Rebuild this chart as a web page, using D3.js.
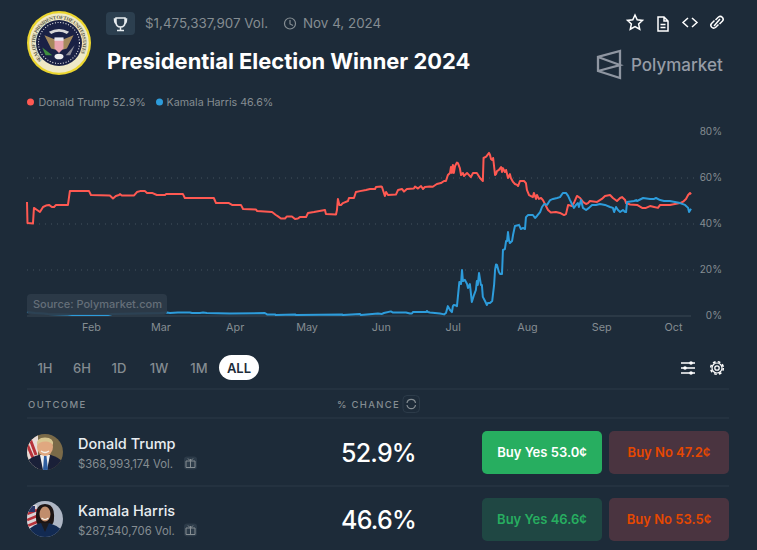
<!DOCTYPE html>
<html>
<head>
<meta charset="utf-8">
<script src="https://cdn.jsdelivr.net/npm/d3@7"></script>
<style>
  html, body { margin: 0; padding: 0; background: #1d2b39; overflow: hidden; }
  svg { display: block; font-family: Inter, "Noto Sans", sans-serif; }
  .axis path, .axis line { display: none; }
</style>
</head>
<body>
<div id="chart"></div>
<script>
// days since 1 Jan 2024 and % chance
const trumpDays = [4.3,4.5,6.8,7.2,8.5,9.7,11,12.2,13.5,14.7,15.6,16.4,21.4,22.2,30.2,31,38.9,40.2,41.4,42.7,43.1,43.9,49,50.2,51.5,53.5,54.4,56.5,58.5,61.9,62.3,69.4,70.2,82.3,83.2,88.6,89.9,93.6,94.5,99.9,100.3,106.6,108.2,109.1,110.3,112,112.8,114.9,116.2,117.4,118.2,120.8,121.6,124.1,128.7,129.1,133.3,133.7,134.1,134.7,135.4,136.2,138.3,138.7,140.8,141.2,141.6,143.3,145.8,147.5,149.6,150,152.1,152.5,153.3,153.7,154.2,155,158.3,159.2,160.9,161.7,162.9,165.8,166.3,167.1,167.5,168.8,169.6,170.4,172.4,173.7,175.4,177.1,178.4,179.2,180,180.9,181.3,181.7,182.1,182.5,183,183.8,184.2,185,185.5,186.3,186.7,188,189.6,190.5,192.1,193.4,194.6,194.9,196,197.2,197.6,198,198.5,198.9,199.7,200.1,200.5,201.3,202.2,202.6,203,203.8,204.3,204.7,205.1,205.9,206.3,207.2,208,208.9,209.3,210.1,211.8,212.6,213,213.9,215.5,215.9,216.8,217.2,218,218.9,219.7,221.8,223,225.1,226.8,228.5,229.3,230.2,231.8,232.6,233.9,235.2,236.4,237.7,238.5,239.3,242.3,244.3,245.6,247.7,248.9,250.6,251.9,252.7,254,254.4,256.1,259,261.1,262.7,264.4,266.1,267.7,268.6,272.7,274.8,276.9,278.2,279.4,280.3,281.1,281.5];
const trumpValues = [49.6,40.4,40.2,47,46.1,45.2,47.4,48,48.3,47.4,47.4,48.3,48.3,54.3,54.3,52.6,52.4,51.1,52.2,52.6,53,52.4,52.4,53.9,54.3,54.3,53.5,53.5,52.6,52.6,53,53,51.3,51.3,49.1,49.1,48.3,48.3,46.5,46.3,45.7,45.2,43.9,43.3,42.4,42.4,43.3,43.3,42.2,42.4,43,43,44.8,45.2,46.1,44.3,44.1,46.1,50.9,48.3,48.3,49.1,50,51.3,51.3,52.6,53.9,54.3,54.8,55.2,55.2,56.1,56.3,56.1,53.5,52.2,53.9,52.6,52.8,54.8,55.2,54.1,55.2,55.4,56.3,55.7,55.4,56.5,55.2,56.1,56.3,56.2,57.4,57.8,58.7,58.7,61.3,62.2,64.8,62.2,65.7,62.2,65.2,66.7,66.5,64.3,61.3,62.2,60.9,62.2,60.4,62.2,62.2,60,58.7,68.7,69.3,70.9,70,68.3,67.8,68.7,61.3,61.7,63,63.5,64.8,62.6,64.3,62.6,63.5,61.7,60,61.7,60,58.3,57.4,57,56.5,58.7,58.7,57.8,54.8,52.6,51.7,53.5,50.9,52.6,50.9,51.3,50.4,46.1,45,45.2,44.8,43.9,44.3,48.3,47.8,49.1,52.2,51.3,49.6,48.7,49.1,50,49.6,50.9,52.2,52.6,51.3,50,51.3,51.7,50.4,49.1,48.5,48.3,47,47,47.8,47.4,47,48.3,48.3,48.7,49.1,49.7,50.9,52.6,53.5,52.9];
const harrisDays = [4.3,7.6,11.4,13,21.4,23.1,38.1,39.8,59.8,62.7,64,67.3,72.3,73.2,76.5,77.8,79.4,89,103.6,104.5,107.8,108.2,116.2,116.6,135.8,136.2,143.3,143.7,150.8,152.5,153.3,156.2,157.1,162.5,164.2,165,165.4,170.9,171.3,171.7,172.5,176.7,178.4,179.2,180,180.9,181.7,182.1,182.5,183.4,183.8,184.8,185.5,185.9,186.3,187.1,188,188.4,189.2,190,190.9,191.7,192.1,192.5,193,193.8,194.2,194.6,195.5,196.3,196.7,197.6,198.5,199.3,199.7,200.1,200.5,201.3,201.8,202.6,203,203.8,204.3,204.7,205.1,205.5,205.9,206.8,207.2,208,209.7,210.5,211.4,212.2,212.6,213.5,215.5,216.4,217.2,218.5,219.3,220.2,221.4,222.7,223.9,225.6,226.8,228,229.3,230.2,231,231.8,232.6,233.5,234.3,234.7,235.6,236.4,237.7,238.9,240.2,241.8,243.5,245.6,247.7,248.9,249.4,250.2,251,251.9,253.1,254,254.4,254.8,257.7,258.6,259,261.5,264.4,266.1,266.9,268.6,270.2,272.7,274.8,276.9,279,280.3,280.7,281.5];
const harrisValues = [1.7,1.3,1.1,0.9,0.7,0.4,0.4,0.9,1.3,1.5,1.3,1.5,1.5,1.3,1.3,1.5,1.3,1.1,1.3,0.7,0.7,0.4,0.7,0.4,0.7,0.4,0.9,0.4,1.1,0.9,1.3,2,1.5,1.5,1.1,1.1,1.7,1.7,2.2,1.7,1.5,1.1,0.7,1.3,4.3,2.6,1.7,4.3,4.8,4.6,4.3,14.8,13.9,20,15.2,15.7,13.9,12.2,13.9,6.1,9.1,11.3,15.2,13.5,18.7,13.5,13.5,8.3,6.5,4.8,5.7,5.7,6.5,13.5,20,22.4,22.2,19.1,18.3,18.3,28.7,29.1,32.6,32.6,36.5,33,31.7,32.6,35.2,39.1,39.6,37.8,38.3,37.8,43,43.9,43.9,42.6,43.5,45.2,47.4,48.7,48.3,50.4,50.9,51.3,51.7,53.5,53.5,52.2,50.4,48.7,47,48.3,49.1,47.4,50.4,47,46.1,47,48.3,48.3,48.7,48.3,47.4,47,45.2,47.4,46.1,45.2,46.1,45.2,45.2,49.6,50,50.4,50,51.3,50.9,50.9,51.3,50.4,50,50,49.6,49.1,48.3,47,45.2,46.6];
const yTicks = [0, 20, 40, 60, 80];
const gridTicks = [20, 40, 60];
const names = ["Donald Trump", "Kamala Harris"];
const chances = ["52.9%", "46.6%"];
const volumes = ["$368,993,174 Vol.", "$287,540,706 Vol."];
const yesPrices = ["Buy Yes 53.0¢", "Buy Yes 46.6¢"];
const noPrices = ["Buy No 47.2¢", "Buy No 53.5¢"];
const ranges = ["1H", "6H", "1D", "1W", "1M"];
const rangeX = [45, 82, 119, 159, 199];

const bg = "#1d2b39", grey = "#858d92", red = "#ff5952", blue = "#2d9cdb", rule = "#2c3b49";
const toDate = (d) => new Date(new Date(2024, 0, 1).getTime() + d * 864e5);

const svg = d3.select("#chart").append("svg").attr("width", 757).attr("height", 550);
const defs = svg.append("defs");

function label(x, y, str, size, fill, weight, anchor) {
  return svg.append("text").attr("x", x).attr("y", y).text(str)
    .attr("font-size", size).attr("fill", fill)
    .attr("font-weight", weight || 400).attr("text-anchor", anchor || "start");
}

// Seal
defs.append("path").attr("id", "sealRing").attr("d", "M-17,17 A24,24 0 1 1 17,17");
const seal = svg.append("g").attr("transform", "translate(59,43)");
seal.append("circle").attr("r", 32).attr("fill", "#ecd62f");
seal.append("circle").attr("r", 29.8).attr("fill", "#efe9c6");
seal.append("text").attr("font-size", 5.2).attr("font-weight", 700).attr("fill", "#5d5a4a")
  .attr("font-family", "Liberation Serif")
  .append("textPath").attr("href", "#sealRing").attr("textLength", 104)
  .text("SEAL OF THE PRESIDENT OF THE UNITED STATES");
seal.append("circle").attr("r", 23).attr("fill", "#1a2145");
seal.append("circle").attr("r", 20.5).attr("fill", "none").attr("stroke", "#e8e8e8").attr("stroke-width", 1.1).attr("stroke-dasharray", "1 1.7");
const eagle = seal.append("g").attr("transform", "scale(1.12)");
eagle.append("path").attr("d", "M-13,-7 L-3,-3 L-3,6 L-7,5 Z M13,-7 L3,-3 L3,6 L7,5 Z").attr("fill", "#a58a5c");
eagle.append("path").attr("d", "M-4,-4 L4,-4 L4,5 L0,9 L-4,5 Z").attr("fill", "#e9a4b0");
eagle.append("rect").attr("x", -4).attr("y", -5).attr("width", 8).attr("height", 3).attr("fill", "#e8e8f0");
eagle.append("path").attr("d", "M-9,-10 Q0,-15 9,-10 L7,-8 Q0,-12 -7,-8 Z").attr("fill", "#d8d8d8");
eagle.append("ellipse").attr("cx", 0).attr("cy", 12).attr("rx", 4).attr("ry", 2.5).attr("fill", "#eeeeee");
eagle.append("path").attr("d", "M-15,4 L-6,11 L-12,11 Z").attr("fill", "#3f8f3f");
eagle.append("path").attr("d", "M14,2 L6,11 L10,11 Z").attr("fill", "#8c8c96");

// Header
svg.append("rect").attr("x", 106).attr("y", 12).attr("width", 29).attr("height", 23).attr("rx", 4).attr("fill", "#2c3f4f");
svg.append("path").attr("d", "M116,18 H125 V22 Q125,27 120.5,27 Q116,27 116,22 Z M120.5,27 V30 M117,30.5 H124 M116,19 H114.5 Q114.5,23 116.5,24 M125,19 H126.5 Q126.5,23 124.5,24")
  .attr("fill", "none").attr("stroke", "#e8edf0").attr("stroke-width", 1.5);
label(145, 28, "$1,475,337,907 Vol.", 13.4, grey);
svg.append("circle").attr("cx", 290).attr("cy", 23.5).attr("r", 5.5).attr("fill", "none").attr("stroke", grey).attr("stroke-width", 1.2);
svg.append("path").attr("d", "M290,20 V24 L293,25.5").attr("fill", "none").attr("stroke", grey).attr("stroke-width", 1.2);
label(303, 28, "Nov 4, 2024", 13.4, grey);
label(107, 69, "Presidential Election Winner 2024", 21.9, "#ffffff", 700);

// Top right icons
const iconStroke = { fill: "none", stroke: "#ffffff", "stroke-width": 1.5 };
const icon = (d) => {
  const p = svg.append("path").attr("d", d);
  Object.entries(iconStroke).forEach(([k, v]) => p.attr(k, v));
  return p;
};
icon("M635,15 L637.2,19.8 L642.5,20.4 L638.6,24 L639.7,29.2 L635,26.6 L630.3,29.2 L631.4,24 L627.5,20.4 L632.8,19.8 Z");
icon("M658,17 H664 L668,21 V31 H658 Z M660.5,24.5 H665.5 M660.5,27.5 H665.5 M664,17 V21 H668");
icon("M688,18 L683,22.5 L688,27 M692,18 L697,22.5 L692,27");
icon("M715.5,20 L718.5,17 Q720.5,15.5 722.5,17.5 Q724,19.5 722.5,21 L719.5,24 M718.5,24.5 L715.5,27.5 Q713.5,29 711.5,27 Q710,25 711.5,23.5 L714.5,20.5 M714,26 L720,19");

// Polymarket logo
svg.append("path").attr("d", "M620,51 V78 L598,71 V57 Z M598,57 L620,65 L598,71")
  .attr("fill", "none").attr("stroke", "#8f96a1").attr("stroke-width", 2.3);
label(631, 71, "Polymarket", 17, "#969ca6", 500);

// Legend
svg.append("circle").attr("cx", 30.5).attr("cy", 102).attr("r", 3.5).attr("fill", red);
label(38.5, 106, `${names[0]} ${chances[0]}`, 10.7, grey);
svg.append("circle").attr("cx", 159.5).attr("cy", 102).attr("r", 3.5).attr("fill", blue);
label(166.5, 106, `${names[1]} ${chances[1]}`, 10.7, grey);

// Chart
const x = d3.scaleTime().domain([toDate(trumpDays[0]), toDate(trumpDays[trumpDays.length - 1])]).range([27, 691]);
const y = d3.scaleLinear().domain([0, 80]).range([316, 132]);

svg.append("g").selectAll("line").data(gridTicks).join("line")
  .attr("x1", 27).attr("x2", 697)
  .attr("y1", (d) => y(d)).attr("y2", (d) => y(d))
  .attr("stroke", "#44525f").attr("stroke-width", 1).attr("stroke-dasharray", "1 5");
svg.append("line").attr("x1", 27).attr("x2", 691).attr("y1", y(0)).attr("y2", y(0)).attr("stroke", "#3a4854");

const xAxis = d3.axisBottom(x).ticks(d3.timeMonth.every(1)).tickFormat(d3.timeFormat("%b")).tickSize(0).tickPadding(7);
svg.append("g").attr("class", "axis").attr("transform", `translate(0,${y(0)})`).call(xAxis)
  .call((g) => g.selectAll("text").attr("fill", grey).attr("font-size", 10.8).attr("font-family", "Inter"));
const yAxis = d3.axisRight(y).tickValues(yTicks).tickFormat((d) => `${d}%`).tickSize(0).tickPadding(0);
svg.append("g").attr("class", "axis").attr("transform", "translate(722,0)").call(yAxis)
  .call((g) => g.selectAll("text").attr("fill", grey).attr("font-size", 10).attr("font-family", "Inter")
    .attr("text-anchor", "end").attr("dy", "0.25em"));

const line = d3.line().x((d) => x(toDate(d[0]))).y((d) => y(d[1]));
svg.append("path").datum(d3.zip(trumpDays, trumpValues)).attr("d", line)
  .attr("fill", "none").attr("stroke", red).attr("stroke-width", 2).attr("stroke-linejoin", "round");
svg.append("path").datum(d3.zip(harrisDays, harrisValues)).attr("d", line)
  .attr("fill", "none").attr("stroke", blue).attr("stroke-width", 2).attr("stroke-linejoin", "round");

// Source badge
svg.append("rect").attr("x", 27).attr("y", 294).attr("width", 140).attr("height", 21).attr("rx", 4)
  .attr("fill", "#2d3b49").attr("fill-opacity", 0.92);
label(33, 308, "Source: Polymarket.com", 11, "#656f79", 500);

// Range tabs
ranges.forEach((r, i) => label(rangeX[i], 372.5, r, 13, grey, 500, "middle"));
svg.append("rect").attr("x", 219).attr("y", 355).attr("width", 40).attr("height", 25).attr("rx", 12.5).attr("fill", "#ffffff");
label(239, 372.5, "ALL", 13, bg, 600, "middle");

// Slider and gear icons
icon("M681,363 H695 M681,368 H695 M681,373 H695").attr("stroke-width", 1.3);
svg.append("g").selectAll("circle").data([[691, 363], [685, 368], [691, 373]]).join("circle")
  .attr("cx", (d) => d[0]).attr("cy", (d) => d[1]).attr("r", 1.8).attr("fill", "#ffffff");
svg.append("circle").attr("cx", 717).attr("cy", 368).attr("r", 6.3).attr("fill", "none").attr("stroke", "#ffffff").attr("stroke-width", 1.6).attr("stroke-dasharray", "2.7 2.25");
svg.append("circle").attr("cx", 717).attr("cy", 368).attr("r", 5).attr("fill", bg).attr("stroke", "#ffffff").attr("stroke-width", 1.2);
svg.append("circle").attr("cx", 717).attr("cy", 368).attr("r", 2.2).attr("fill", "none").attr("stroke", "#ffffff").attr("stroke-width", 1.3);

// Table
[389, 418, 486].forEach((ly) => {
  svg.append("line").attr("x1", 27).attr("x2", 729).attr("y1", ly).attr("y2", ly).attr("stroke", rule);
});
label(28, 408, "OUTCOME", 9.5, grey, 500).attr("letter-spacing", 1.4);
label(337, 408, "% CHANCE", 9.5, grey, 500).attr("letter-spacing", 1.3);
svg.append("rect").attr("x", 403).attr("y", 395.5).attr("width", 16.5).attr("height", 17).attr("rx", 4).attr("fill", "none").attr("stroke", "#2c3b49");
svg.append("path").attr("d", "M407,403 A4.3,4.3 0 0 1 415.5,403 M415.5,405 A4.3,4.3 0 0 1 407,405").attr("fill", "none").attr("stroke", grey).attr("stroke-width", 1.2);

const avatarY = [452, 519];
avatarY.forEach((cy, i) => {
  defs.append("clipPath").attr("id", `av${i}`).append("circle").attr("cx", 45).attr("cy", cy).attr("r", 18);
});

// Trump portrait
const t = svg.append("g").attr("clip-path", "url(#av0)");
t.append("rect").attr("x", 27).attr("y", 434).attr("width", 36).attr("height", 36).attr("fill", "#7a6a48");
t.append("rect").attr("x", 27).attr("y", 434).attr("width", 11).attr("height", 36).attr("fill", "#e8dcd8");
t.append("path").attr("d", "M29,436 L36,455 M27,444 L33,458").attr("stroke", "#b7323a").attr("stroke-width", 3);
t.append("path").attr("d", "M27,470 V461 Q33,456 39,455 H51 Q58,457 63,462 V470 Z").attr("fill", "#1a2038");
t.append("path").attr("d", "M40,455 H50 L47,470 H43 Z").attr("fill", "#f0f0f0");
t.append("path").attr("d", "M44,456 H46.5 L48,470 H43 Z").attr("fill", "#2f5d9f");
t.append("ellipse").attr("cx", 45).attr("cy", 447).attr("rx", 8).attr("ry", 9).attr("fill", "#e0a880");
t.append("path").attr("d", "M37,445 Q36,437.5 45,437.5 Q54,437.5 53,445 Q50,441 45,441.5 Q40,441.5 37,445 Z").attr("fill", "#d8c690");
t.append("path").attr("d", "M41,451 Q45,454 49,451").attr("stroke", "#f5f0e8").attr("stroke-width", 1.3).attr("fill", "none");

// Harris portrait
const h = svg.append("g").attr("clip-path", "url(#av1)");
h.append("rect").attr("x", 27).attr("y", 501).attr("width", 36).attr("height", 36).attr("fill", "#aeb6c4");
h.append("path").attr("d", "M27,505 H37 V530 H27 Z").attr("fill", "#d9d3d6");
h.append("path").attr("d", "M27,514 L37,510 M27,520 L37,516 M27,526 L37,522").attr("stroke", "#b7323a").attr("stroke-width", 2.5);
h.append("rect").attr("x", 28).attr("y", 506).attr("width", 7).attr("height", 6).attr("fill", "#2a3566");
h.append("path").attr("d", "M36,518 Q35,504 45,504 Q55,504 54,518 Q54,524 51,525 H39 Q36,524 36,518 Z").attr("fill", "#1c1414");
h.append("path").attr("d", "M28,537 V530 Q35,524 41,523 H49 Q56,525 62,530 V537 Z").attr("fill", "#122a52");
h.append("path").attr("d", "M41,523 H49 L45,532 Z").attr("fill", "#1b1b20");
h.append("ellipse").attr("cx", 45).attr("cy", 514).attr("rx", 5.5).attr("ry", 7.5).attr("fill", "#c08d6c");
h.append("path").attr("d", "M41.5,518 Q45,521 48.5,518").attr("stroke", "#f5f0e8").attr("stroke-width", 1.2).attr("fill", "none");

// Rows
const rowY = [431, 498];
const yesFill = ["#27ae60", "#1f4743"], yesText = ["#ffffff", "#27ae60"];
names.forEach((name, i) => {
  const top = rowY[i];
  label(78, top + 18, name, 14.5, "#e8edf0", 500);
  label(78, top + 37, volumes[i], 11.3, grey);
  svg.append("rect").attr("x", 184).attr("y", top + 25.5).attr("width", 13).attr("height", 13).attr("rx", 3).attr("fill", "#2c3b49");
  svg.append("path").attr("d", `M186,${top + 30} H195 V${top + 36.5} H186 Z M190.5,${top + 28} V${top + 36.5} M188,${top + 27.5} L190.5,${top + 30} L193,${top + 27.5}`)
    .attr("fill", "none").attr("stroke", grey).attr("stroke-width", 1);
  label(378.5, top + 31, chances[i], 25, "#ffffff", 500, "middle").attr("letter-spacing", -0.8);
  svg.append("rect").attr("x", 482).attr("y", top).attr("width", 120).attr("height", 43).attr("rx", 5).attr("fill", yesFill[i]);
  label(542, top + 26, yesPrices[i], 13, yesText[i], 600, "middle");
  svg.append("rect").attr("x", 609).attr("y", top).attr("width", 120).attr("height", 43).attr("rx", 5).attr("fill", "#4a3440");
  label(669, top + 26, noPrices[i], 13, "#e64800", 600, "middle");
});
</script>
</body>
</html>
